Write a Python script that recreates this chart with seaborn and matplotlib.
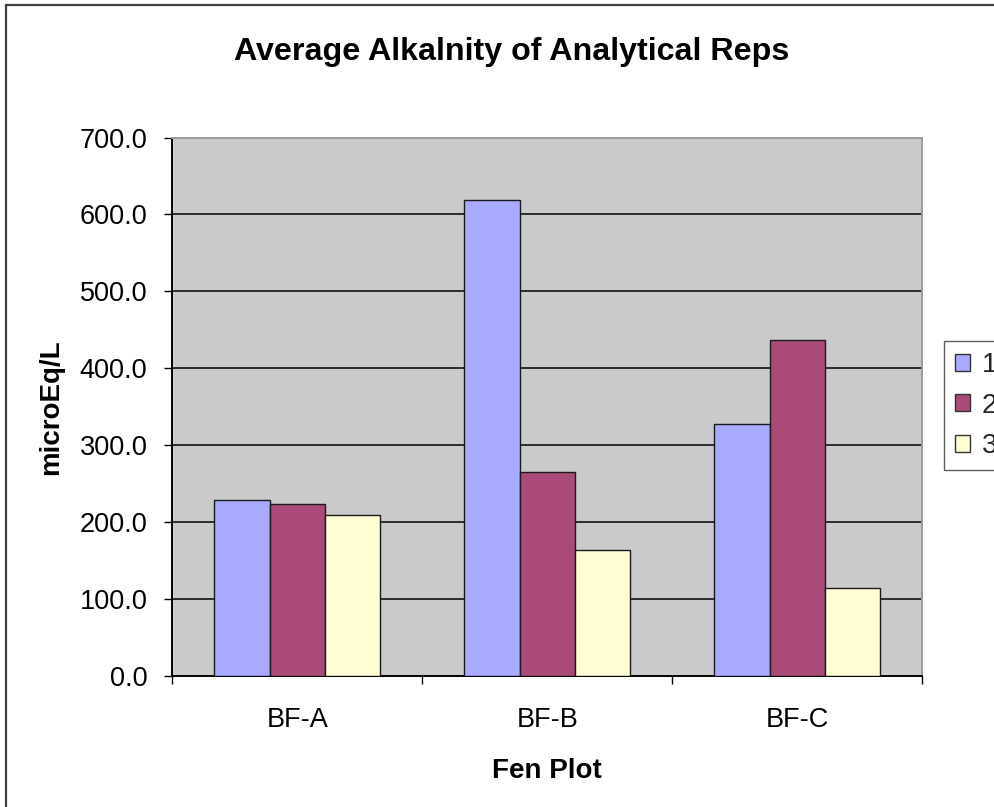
import matplotlib
matplotlib.use("Agg")
import matplotlib.pyplot as plt
import matplotlib.patches as mpatches
from matplotlib.ticker import FixedLocator, FormatStrFormatter
import seaborn as sns
import pandas as pd

# ---- data ----
categories = ["BF-A", "BF-B", "BF-C"]
reps = ["1", "2", "3"]
rep1 = [228.6, 618.2, 327.3]
rep2 = [223.4, 264.9, 436.4]
rep3 = [209.9, 163.6, 114.3]
y_ticks = [0, 100, 200, 300, 400, 500, 600, 700]
title = "Average Alkalnity of Analytical Reps"
x_label = "Fen Plot"
y_label = "microEq/L"

colors = ["#A8AAFF", "#AA4A78", "#FFFDD4"]

rows = []
for rep, vals in zip(reps, [rep1, rep2, rep3]):
    for c, v in zip(categories, vals):
        rows.append({"Fen Plot": c, "Rep": rep, "value": v})
df = pd.DataFrame(rows)

sns.set_theme(style="white")
plt.rcParams["font.family"] = ["Liberation Sans", "DejaVu Sans"]

W, H = 995, 807
fig = plt.figure(figsize=(W / 100, H / 100), dpi=100)
ax = fig.add_axes([172.3 / W, 1 - 676.3 / H, (922.3 - 172.3) / W, (676.3 - 137.5) / H])
ax.set_facecolor("#CACACA")

sns.barplot(data=df, x="Fen Plot", y="value", hue="Rep", order=categories,
            hue_order=reps, palette=colors, width=0.664, gap=0,
            edgecolor="#1a1a1a", linewidth=1.0, saturation=1, ax=ax,
            legend=False, zorder=3)

ax.set_xlim(-0.5, 2.5)
ax.set_ylim(0, 700)
ax.yaxis.set_major_locator(FixedLocator(y_ticks))
ax.yaxis.set_major_formatter(FormatStrFormatter("%.1f"))
for v in y_ticks[1:-1]:
    ax.axhline(v, color="black", lw=1.1, zorder=1)

ax.tick_params(axis="y", which="major", left=True, length=6, width=1,
               color="black", labelsize=19.5, pad=12, labelcolor="black")
ax.tick_params(axis="x", which="major", bottom=False, length=0,
               labelsize=19.5, pad=22, labelcolor="black")
ax.xaxis.set_minor_locator(FixedLocator([-0.5, 0.5, 1.5, 2.5]))
ax.tick_params(axis="x", which="minor", bottom=True, length=6, width=1,
               color="black")

for s in ["left", "bottom"]:
    ax.spines[s].set_color("black")
    ax.spines[s].set_linewidth(1.4)
for s in ["top", "right"]:
    ax.spines[s].set_color("#9a9a9a")
    ax.spines[s].set_linewidth(1.4)

ax.set_xlabel(x_label, fontsize=20, fontweight="bold", labelpad=18, color="black")
ax.set_ylabel(y_label, fontsize=20, fontweight="bold", labelpad=11, color="black")

fig.text(512 / W, 1 - 52 / H, title, ha="center", va="center",
         fontsize=23.2, fontweight="bold", color="black")

handles = [mpatches.Patch(facecolor=c, edgecolor="#333333", linewidth=1.0) for c in colors]
leg = fig.legend(handles, reps, loc="upper left",
                 bbox_to_anchor=(944 / W, 1 - 341 / H), bbox_transform=fig.transFigure,
                 borderaxespad=0, frameon=True, fancybox=False, fontsize=20,
                 handlelength=0.55, handleheight=0.55, handletextpad=0.4,
                 borderpad=0.4, labelspacing=0.52)
leg.get_frame().set_edgecolor("#333333")
leg.get_frame().set_linewidth(1.0)

fig.patches.append(mpatches.Rectangle((6.5 / W, -0.05), 1.1, 1 - 5 / H + 0.05,
                                      transform=fig.transFigure, fill=False,
                                      edgecolor="#404040", linewidth=1.6))

fig.savefig("out.png", dpi=100, facecolor="white")
